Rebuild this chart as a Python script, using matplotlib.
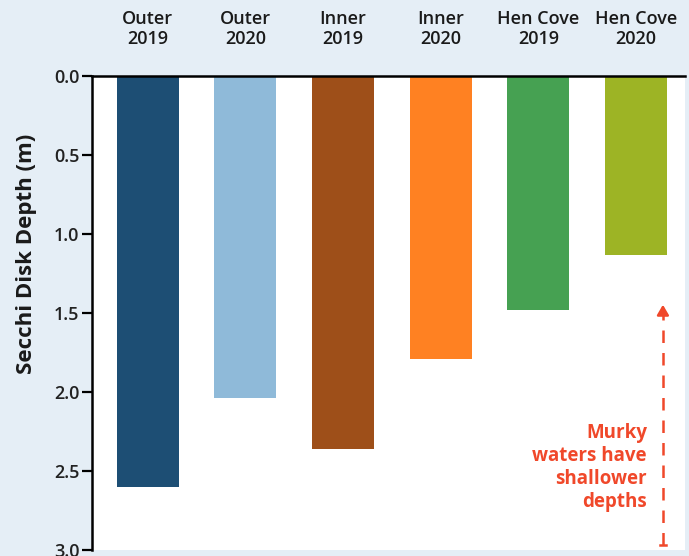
import matplotlib.pyplot as plt

sites = ["Outer\n2019", "Outer\n2020", "Inner\n2019", "Inner\n2020", "Hen Cove\n2019", "Hen Cove\n2020"]
depths = [2.60, 2.04, 2.36, 1.79, 1.48, 1.13]
colors = ["#1d4e74", "#8fbad9", "#9e4f19", "#ff8122", "#46a152", "#9db425"]
yticks = [0.0, 0.5, 1.0, 1.5, 2.0, 2.5, 3.0]

plt.rcParams['font.family'] = ['Open Sans', 'DejaVu Sans']

fig = plt.figure(figsize=(6.89, 5.56), dpi=100, facecolor="#e5eef6")
ax = fig.add_axes([92/689, 1 - 550/556, 593/689, 474/556])
ax.set_facecolor("white")

x = range(len(sites))
ax.bar(x, depths, width=0.635, color=colors)

ax.set_ylim(3.0, 0.0)
ax.set_xlim(-0.57, 5.5)
ax.set_yticks(yticks)
ax.set_yticklabels([f"{v:.1f}" for v in yticks], fontsize=13, fontweight="semibold", color="#222222")
ax.tick_params(axis="y", length=7, width=1.6, pad=2)

ax.xaxis.tick_top()
ax.set_xticks(list(x))
ax.set_xticklabels(sites, fontsize=13, fontweight="semibold", color="#1a1a1a", linespacing=1.15)
ax.tick_params(axis="x", length=0, pad=20)

for side in ["right", "bottom"]:
    ax.spines[side].set_visible(False)
ax.spines["left"].set_linewidth(1.8)
ax.spines["top"].set_linewidth(1.8)

ax.set_ylabel("Secchi Disk Depth (m)", fontsize=16, fontweight="bold", color="#1a1a1a")
ax.yaxis.set_label_coords(-0.093, 0.625)

red = "#f0482a"
ax.plot([5.274, 5.274], [2.97, 1.50], color=red, lw=1.8, ls=(0, (5, 4)))
ax.plot([5.24, 5.31], [2.97, 2.97], color=red, lw=1.8)
ax.annotate("", xy=(5.274, 1.43), xytext=(5.274, 1.52),
            arrowprops=dict(arrowstyle="-|>,head_width=0.35,head_length=0.6", color=red, lw=1.8))
ax.text(5.11, 2.48, "Murky\nwaters have\nshallower\ndepths", ha="right", va="center",
        multialignment="right", fontsize=13.5, fontweight="bold", color=red, linespacing=1.2)

fig.savefig("out.png", dpi=100, facecolor=fig.get_facecolor())
